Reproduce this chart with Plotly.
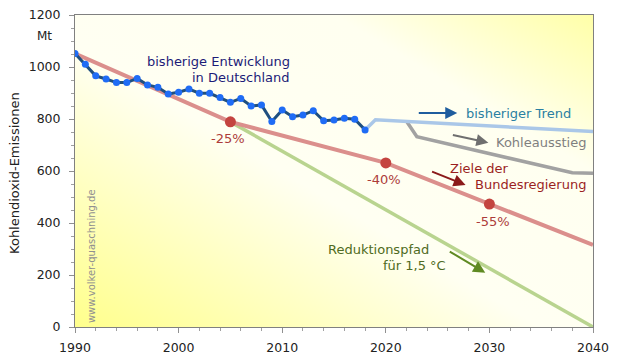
import base64
import plotly.graph_objects as go

# ---------------- data ----------------
hist_years = [1990, 1991, 1992, 1993, 1994, 1995, 1996, 1997, 1998, 1999,
              2000, 2001, 2002, 2003, 2004, 2005, 2006, 2007, 2008, 2009,
              2010, 2011, 2012, 2013, 2014, 2015, 2016, 2017, 2018]
hist_co2 = [1052, 1011, 966, 954, 940, 940, 956, 931, 922, 896,
            903, 915, 899, 899, 883, 864, 879, 850, 854, 790,
            835, 809, 815, 832, 793, 796, 803, 799, 758]

trend_years = [2018, 2019, 2040]
trend_co2 = [758, 797, 752]

coal_years = [2022, 2023, 2038, 2040]
coal_co2 = [791, 732, 593, 591]

target_years = [1990, 2005, 2020, 2030, 2040]
target_co2 = [1052, 789, 631, 473, 316]

goal_years = [2005, 2020, 2030]
goal_co2 = [789, 631, 473]
goal_labels = ["-25%", "-40%", "-55%"]

path15_years = [2005, 2040]
path15_co2 = [789, 0]

x_ticks = [1990, 2000, 2010, 2020, 2030, 2040]
y_ticks = [0, 200, 400, 600, 800, 1000, 1200]

FONT = "DejaVu Sans"

# ---------------- background gradient ----------------
svg = ('<svg xmlns="http://www.w3.org/2000/svg" width="100" height="100" '
       'preserveAspectRatio="none" viewBox="0 0 100 100">'
       '<defs><linearGradient id="g" x1="0" y1="1" x2="1" y2="0">'
       '<stop offset="0" stop-color="#ffff8c"/>'
       '<stop offset="0.45" stop-color="#fffff2"/>'
       '<stop offset="0.75" stop-color="#fffff0"/>'
       '<stop offset="1" stop-color="#ffffa8"/>'
       '</linearGradient></defs>'
       '<rect width="100" height="100" fill="url(#g)"/></svg>')
svg_uri = "data:image/svg+xml;base64," + base64.b64encode(svg.encode()).decode()

fig = go.Figure()

fig.add_trace(go.Scatter(x=path15_years, y=path15_co2, mode="lines",
                         line=dict(color="#b9d48f", width=3.5), hoverinfo="skip"))
fig.add_trace(go.Scatter(x=target_years, y=target_co2, mode="lines",
                         line=dict(color="#db8f8c", width=4), hoverinfo="skip"))
fig.add_trace(go.Scatter(x=goal_years, y=goal_co2, mode="markers",
                         marker=dict(color="#c4443f", size=11), hoverinfo="skip"))
fig.add_trace(go.Scatter(x=coal_years, y=coal_co2, mode="lines",
                         line=dict(color="#a2a2a2", width=3.5), hoverinfo="skip"))
fig.add_trace(go.Scatter(x=trend_years, y=trend_co2, mode="lines",
                         line=dict(color="#aac7e8", width=3.5), hoverinfo="skip"))
fig.add_trace(go.Scatter(x=hist_years, y=hist_co2, mode="lines+markers",
                         line=dict(color="#1f4f7f", width=3),
                         marker=dict(color="#1f6cf5", size=7), hoverinfo="skip"))

ann = []


def txt(text, x, y, color, xanchor="center", size=13, **kw):
    d = dict(text=text, x=x, y=y, xref="x", yref="y", showarrow=False,
             xanchor=xanchor, yanchor="middle",
             font=dict(family=FONT, size=size, color=color))
    d.update(kw)
    ann.append(d)


def arrow(x, y, ax, ay, color):
    ann.append(dict(x=x, y=y, xref="x", yref="y", ax=ax, ay=ay, text="",
                    showarrow=True, arrowhead=2, arrowsize=1.2, arrowwidth=2,
                    arrowcolor=color, standoff=0))


txt("bisherige Entwicklung", 2010.9, 1020, "#1c1c78", xanchor="right")
txt("in Deutschland", 2010.9, 960, "#1c1c78", xanchor="right")
txt("bisheriger Trend", 2027.5, 822, "#2a80a2", xanchor="left")
txt("Kohleausstieg", 2039.5, 708, "#7f7f7f", xanchor="right")
txt("Ziele der", 2026.0, 610, "#9b1f1f", xanchor="left")
txt("Bundesregierung", 2039.5, 549, "#9b1f1f", xanchor="right")
txt("Reduktionspfad", 2014.2, 300, "#4f6b22", xanchor="left")
txt("für 1,5 °C", 2026.0, 238, "#4f6b22", xanchor="right")
for gx, gy, gl, dx, dy in zip(goal_years, goal_co2, goal_labels,
                              [-0.2, -0.2, 0.3], [-63, -63, -68]):
    txt(gl, gx + dx, gy + dy, "#ad3c3a")

arrow(2026.9, 823, -40, 0, "#1f5d9e")
arrow(2029.9, 709, -37, -8, "#6f6f6f")
arrow(2027.7, 546, -35, -14, "#8b1a1a")
arrow(2029.6, 209, -37, -22, "#5f8a22")

# watermark, axis title, unit
ann.append(dict(text="www.volker-quaschning.de", x=0.031, y=273, xref="paper", yref="y",
                showarrow=False, textangle=-90, xanchor="center", yanchor="middle",
                font=dict(family=FONT, size=10, color="#909090")))
ann.append(dict(text="Kohlendioxid-Emissionen", x=-0.118, y=592, xref="paper", yref="y",
                showarrow=False, textangle=-90, xanchor="center", yanchor="middle",
                font=dict(family=FONT, size=13, color="#222222")))
ann.append(dict(text="Mt", x=-0.058, y=1120, xref="paper", yref="y",
                showarrow=False, xanchor="center", yanchor="middle",
                font=dict(family=FONT, size=12, color="#222222")))

# page has an 8px body margin, so the figure is sized/offset to compensate
fig.update_layout(
    width=612, height=351,
    margin=dict(l=67, r=27, t=7, b=32),
    paper_bgcolor="white",
    plot_bgcolor="rgba(0,0,0,0)",
    showlegend=False,
    annotations=ann,
    images=[dict(source=svg_uri, xref="paper", yref="paper", x=0, y=1,
                 sizex=1, sizey=1, sizing="stretch", layer="below",
                 xanchor="left", yanchor="top")],
    font=dict(family=FONT, size=12, color="#222222"),
)
fig.update_xaxes(range=[1990, 2040], tickvals=x_ticks, showgrid=False, zeroline=False,
                 showline=True, linecolor="#808080", linewidth=1, mirror=True,
                 ticks="outside", ticklen=5, tickcolor="#909090",
                 ticklabeloverflow="allow", automargin=False, ticklabelstandoff=4,
                 minor=dict(dtick=2, ticks="outside", ticklen=3, tickcolor="#a0a0a0"),
                 tickfont=dict(family=FONT, size=12.5, color="#222222"))
fig.update_yaxes(range=[0, 1200], tickvals=y_ticks, showgrid=False, zeroline=False,
                 showline=True, linecolor="#808080", linewidth=1, mirror=True,
                 ticks="outside", ticklen=5, tickcolor="#909090",
                 ticklabeloverflow="allow", automargin=False, ticklabelstandoff=6,
                 minor=dict(dtick=50, ticks="outside", ticklen=3, tickcolor="#a0a0a0"),
                 tickfont=dict(family=FONT, size=12.5, color="#222222"))

fig.write_html("out.html")
